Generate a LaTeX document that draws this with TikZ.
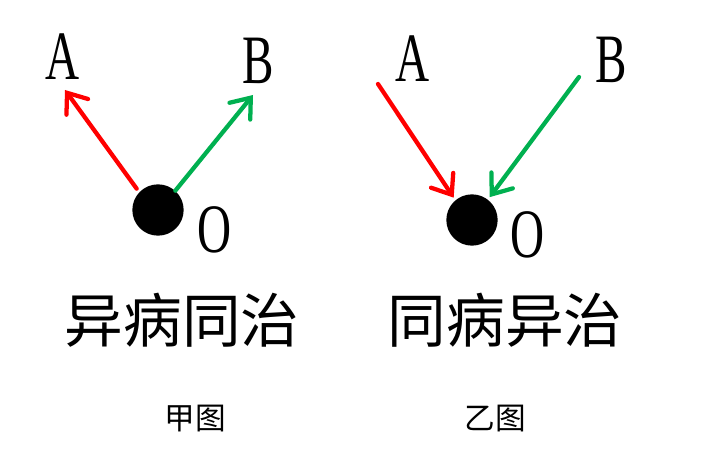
\documentclass[tikz,border=0pt]{standalone}
\usepackage{fontspec}
\usepackage{graphicx}
\usepackage{xcolor}
\usepackage{tikz}
\usetikzlibrary{arrows.meta,positioning,calc}
\setmainfont{Liberation Serif}
\newfontfamily\cjk{Noto Sans CJK SC}
\definecolor{arrowred}{RGB}{255,0,0}
\definecolor{arrowgreen}{RGB}{0,176,80}

\begin{document}
\begin{tikzpicture}[
    x=0.75pt, y=-0.75pt,
    letter/.style={inner sep=0pt, font=\fontsize{52}{52}\selectfont},
    ball/.style={circle, fill=black, minimum size=38.5pt, inner sep=0pt},
    title/.style={inner sep=0pt, font=\cjk\fontsize{44}{44}\selectfont},
    caption/.style={inner sep=0pt, font=\cjk\fontsize{23}{23}\selectfont},
    arrow/.style={-{Straight Barb[length=13pt, width=20pt, line cap=round]}, line width=3.2pt, line cap=round}
]
    \useasboundingbox (0,0) rectangle (723,463);

    % Left diagram
    \node[ball] (oa) at (158,210) {};
    \node[letter] (aa) at (63,57) {\scalebox{0.68}[1]{A}};
    \node[letter] (ba) at (258,61) {\scalebox{0.68}[1]{B}};
    \node[letter] (la) at (215,230) {\scalebox{0.68}[1]{O}};
    \coordinate (ta) at (65,90);
    \coordinate (tb) at (253,95);
    \draw[arrow, arrowred] ($(oa.135)+(-3,-3)$) -- (ta);
    \draw[arrow, arrowgreen] ($(oa.45)+(-1,-1)$) -- (tb);

    % Right diagram
    \node[ball] (ob) at (472,220) {};
    \node[letter] (ab) at (413,59) {\scalebox{0.68}[1]{A}};
    \node[letter] (bb) at (611,60) {\scalebox{0.68}[1]{B}};
    \node[letter] (lb) at (528,235) {\scalebox{0.68}[1]{O}};
    \coordinate (sa) at (378,84);
    \coordinate (sb) at (579,77);
    \draw[arrow, arrowred] (sa) -- ($(ob.135)+(0,-4)$);
    \draw[arrow, arrowgreen] (sb) -- ($(ob.50)+(1,-3)$);

    % Titles
    \node[title] (ta1) at (182,320) {异病同治};
    \node[title] (tb1) at (505,320) {同病异治};
    \node[caption] (ca) at (195,419) {甲图};
    \node[caption] (cb) at (495,419) {乙图};
\end{tikzpicture}
\end{document}
